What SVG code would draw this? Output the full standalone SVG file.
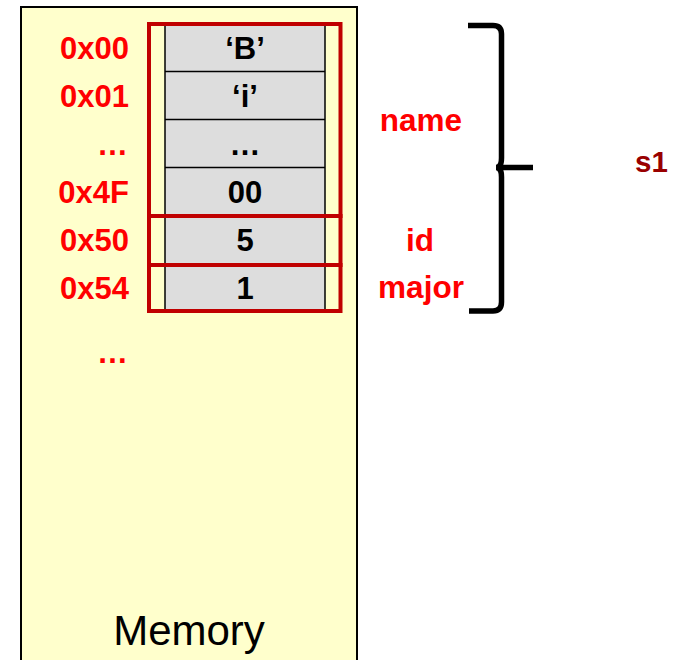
<svg xmlns="http://www.w3.org/2000/svg" width="677" height="660" viewBox="0 0 677 660">
  <style>
    .addr { font-family: "Liberation Sans", Arial, sans-serif; font-weight: bold; font-size: 31px; fill: #FF0000; text-anchor: end; }
    .val { font-family: "Liberation Sans", Arial, sans-serif; font-weight: bold; font-size: 31px; fill: #000000; text-anchor: middle; }
    .field { font-family: "Liberation Sans", Arial, sans-serif; font-weight: bold; font-size: 31.5px; fill: #FF0000; text-anchor: middle; }
    .var { font-family: "Liberation Sans", Arial, sans-serif; font-weight: bold; font-size: 29.5px; fill: #990000; }
    .title { font-family: "Liberation Sans", Arial, sans-serif; font-size: 42px; fill: #000000; text-anchor: middle; }
    .cellline { stroke: #000000; stroke-width: 1.5; fill: none; }
    .member { stroke: #C00000; stroke-width: 4; fill: none; }
  </style>

  <!-- memory block -->
  <g id="memory">
    <rect x="21" y="7" width="336" height="700" fill="#FFFFCC" stroke="#000000" stroke-width="2"/>
    <text class="title" x="189" y="645">Memory</text>
  </g>

  <!-- byte cells -->
  <g id="cells">
    <rect x="165" y="24" width="160" height="287" fill="#DDDDDD"/>
    <line class="cellline" x1="165" y1="24" x2="165" y2="311"/>
    <line class="cellline" x1="325" y1="24" x2="325" y2="311"/>
    <line class="cellline" x1="165" y1="71.5" x2="325" y2="71.5"/>
    <line class="cellline" x1="165" y1="119.5" x2="325" y2="119.5"/>
    <line class="cellline" x1="165" y1="167.5" x2="325" y2="167.5"/>
    <text class="val" x="245" y="59">‘B’</text>
    <text class="val" x="245" y="107">‘i’</text>
    <text class="val" x="245" y="155">…</text>
    <text class="val" x="245" y="203">00</text>
    <text class="val" x="245" y="251">5</text>
    <text class="val" x="245" y="299">1</text>
  </g>

  <!-- addresses -->
  <g id="addresses">
    <text class="addr" x="129" y="59">0x00</text>
    <text class="addr" x="129" y="107">0x01</text>
    <text class="addr" x="128" y="155">…</text>
    <text class="addr" x="129" y="203">0x4F</text>
    <text class="addr" x="129" y="251">0x50</text>
    <text class="addr" x="129" y="299">0x54</text>
    <text class="addr" x="128" y="363">…</text>
  </g>

  <!-- struct members -->
  <g id="member-name">
    <rect class="member" x="149" y="24" width="191.5" height="192"/>
    <text class="field" x="421" y="131">name</text>
  </g>
  <g id="member-id">
    <rect class="member" x="149" y="216" width="191.5" height="49"/>
    <text class="field" x="420" y="251">id</text>
  </g>
  <g id="member-major">
    <rect class="member" x="149" y="265" width="191.5" height="46"/>
    <text class="field" x="421" y="298">major</text>
  </g>

  <!-- brace grouping the members -->
  <g id="connectors">
    <path d="M468 25.5 H493 Q501.5 25.5 501.5 34 V158 Q501.5 167.5 496 167.5 H533 M496 167.5 Q501.5 167.5 501.5 177 V302 Q501.5 311 493 311 H469" fill="none" stroke="#000000" stroke-width="5.5"/>
  </g>
  <g id="s1">
    <text class="var" x="635" y="172">s1</text>
  </g>
</svg>
